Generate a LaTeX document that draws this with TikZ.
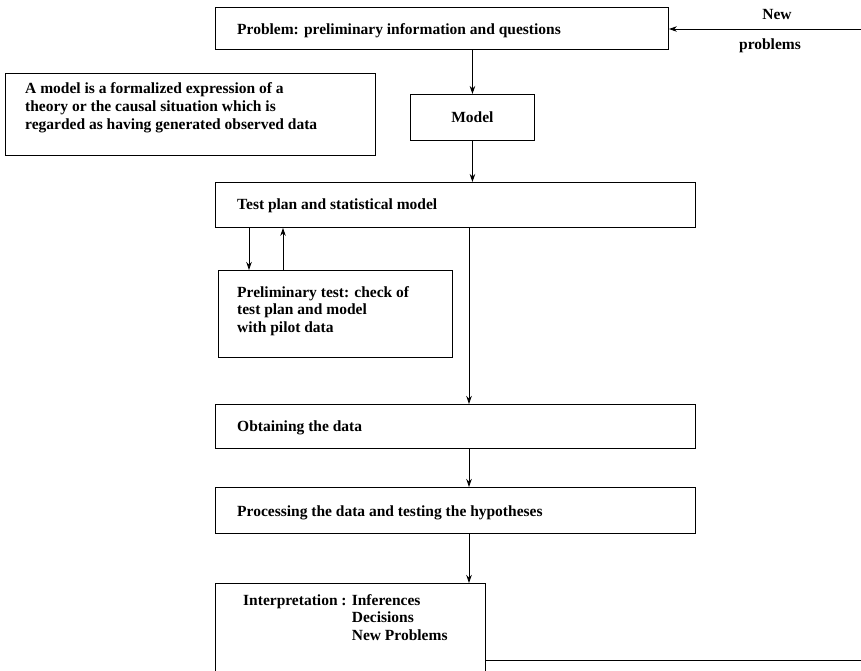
\documentclass[tikz,border=0pt]{standalone}
\usepackage{fontspec}
\setmainfont{Liberation Serif}
\usetikzlibrary{arrows.meta,calc}
\begin{document}
\begin{tikzpicture}[x=1pt,y=-1pt,
  font=\fontsize{15.5}{17.5}\selectfont\bfseries,
  box/.style={draw, line width=0.9pt, inner sep=0pt, anchor=north west},
  txt/.style={anchor=west, inner sep=0pt, align=left},
  mtxt/.style={anchor=north west, inner sep=0pt, align=left},
  arr/.style={line width=0.9pt, -{Stealth[length=8pt,width=5.5pt]}},
  ln/.style={line width=0.9pt}]
\useasboundingbox (0,0) rectangle (861,670);
\clip (0,0) rectangle (861,670);

% boxes
\node[box, minimum width=453pt, minimum height=42pt] (prob) at (215,7) {};
\node[box, minimum width=370pt, minimum height=82pt] (def) at (5,73) {};
\node[box, minimum width=124pt, minimum height=46pt] (model) at (410,94) {};
\node[box, minimum width=480pt, minimum height=45pt] (tp) at (215,182) {};
\node[box, minimum width=234pt, minimum height=87pt] (pre) at (218,270) {};
\node[box, minimum width=480pt, minimum height=44pt] (ob) at (215,404) {};
\node[box, minimum width=480pt, minimum height=46pt] (proc) at (215,487) {};
\node[box, minimum width=270pt, minimum height=110pt] (int) at (215,583) {};

% texts
\node[txt] (probT) at (237,31) {Problem: preliminary information and questions};
\node[mtxt, font=\fontsize{15.5}{18}\selectfont\bfseries] (defT) at (25,82) {A model is a formalized expression of a\\theory or the causal situation which is\\regarded as having generated observed data};
\node (modelT) at (model.center) {Model};
\node[txt] (tpT) at (237,206) {Test plan and statistical model};
\node[mtxt] (preT) at (237,286) {Preliminary test: check of\\test plan and model\\with pilot data};
\node[txt] (obT) at (237,428) {Obtaining the data};
\node[txt] (procT) at (237,513) {Processing the data and testing the hypotheses};
\node[mtxt] (intT) at (243,594) {Interpretation : Inferences\\\phantom{Interpretation : }Decisions\\\phantom{Interpretation : }New Problems};
\node (newT) at (777,14) {New};
\node (probsT) at (770,46) {problems};

% connectors
\coordinate (rt) at (861,29);
\coordinate (rb) at (861,660);
\coordinate (v1) at (249,0);
\coordinate (v2) at (283,0);
\coordinate (v3) at (469,0);
\draw[arr] (rt) -- (rt -| prob.east);
\draw[arr] (prob.south -| model.north) -- (model.north);
\draw[arr] (model.south) -- (model.south |- tp.north);
\draw[arr] (tp.south -| v1) -- (pre.north -| v1);
\draw[arr] (pre.north -| v2) -- (tp.south -| v2);
\draw[arr] (tp.south -| v3) -- (ob.north -| v3);
\draw[arr] (ob.south -| v3) -- (proc.north -| v3);
\draw[arr] (proc.south -| v3) -- (int.north -| v3);
\draw[ln] (rb -| int.east) -- (rb);
\end{tikzpicture}
\end{document}
